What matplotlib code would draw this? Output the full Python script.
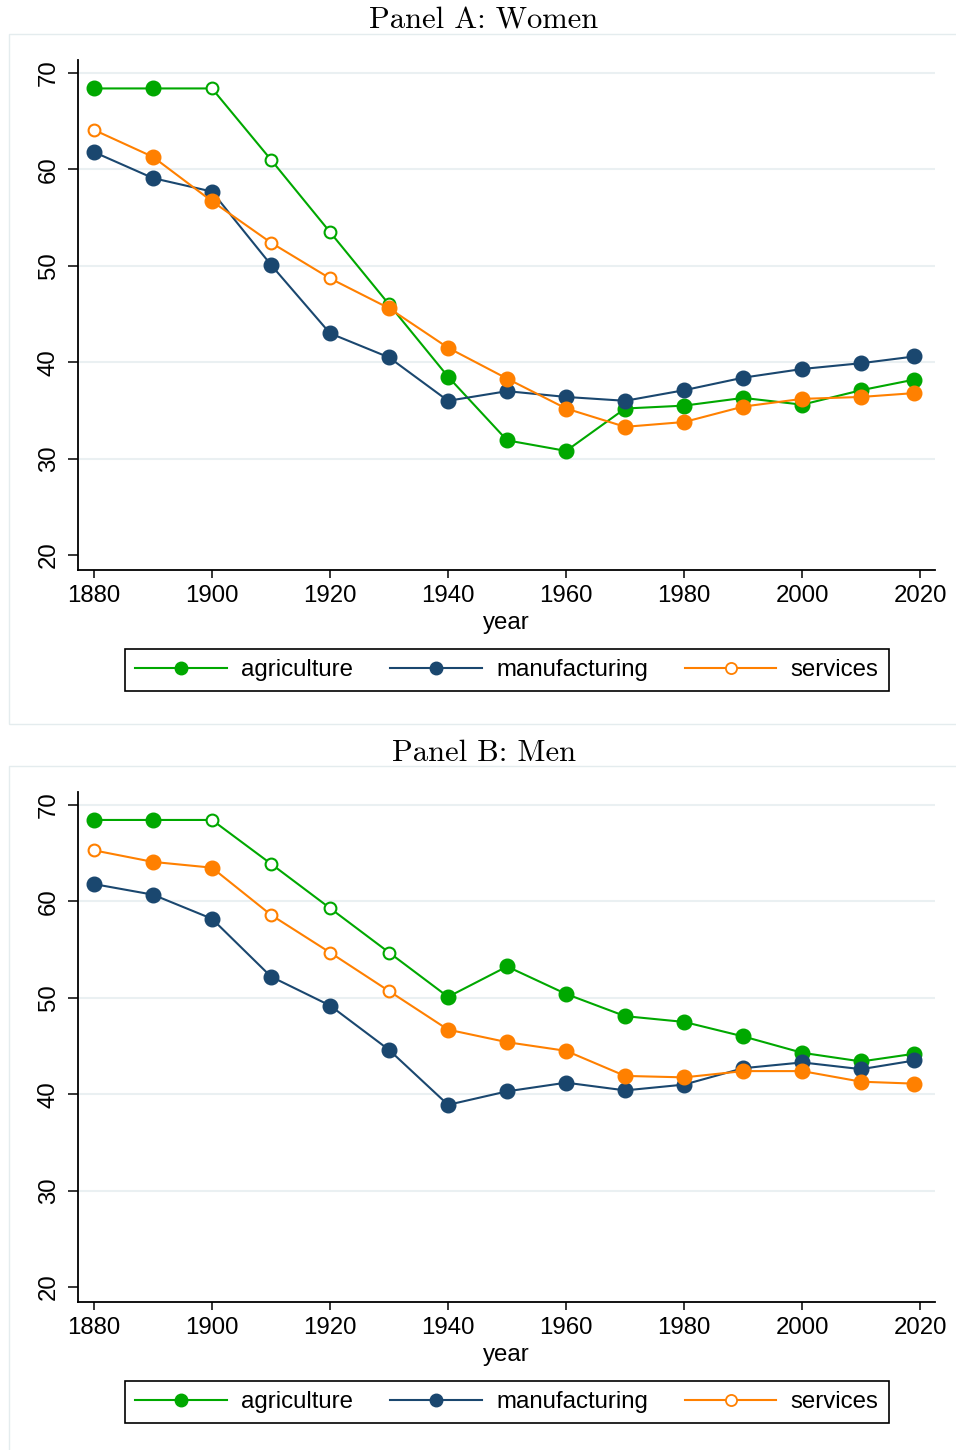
import numpy as np
import matplotlib
matplotlib.use("Agg")
import matplotlib.pyplot as plt
from matplotlib.lines import Line2D
from matplotlib.patches import Rectangle

plt.rcParams['font.family'] = ['Liberation Sans', 'DejaVu Sans']

W, H = 956, 1450
FS = 17.3

years = [1880, 1890, 1900, 1910, 1920, 1930, 1940, 1950, 1960, 1970, 1980, 1990, 2000, 2010, 2019]

# Panel A: women
women_agri = [68.4, 68.4, 68.4, 61.0, 53.5, 46.0, 38.5, 31.9, 30.8, 35.2, 35.5, 36.3, 35.6, 37.1, 38.2]
women_manu = [61.8, 59.1, 57.7, 50.1, 43.0, 40.5, 36.0, 37.0, 36.4, 36.0, 37.1, 38.4, 39.3, 39.9, 40.6]
women_serv = [64.1, 61.3, 56.7, 52.4, 48.7, 45.6, 41.5, 38.3, 35.2, 33.3, 33.8, 35.4, 36.2, 36.4, 36.8]
women_agri_hollow = [0, 0, 1, 1, 1, 1, 0, 0, 0, 0, 0, 0, 0, 0, 0]
women_manu_hollow = [0] * 15
women_serv_hollow = [1, 0, 0, 1, 1, 0, 0, 0, 0, 0, 0, 0, 0, 0, 0]

# Panel B: men
men_agri = [68.45, 68.45, 68.45, 63.9, 59.3, 54.7, 50.1, 53.25, 50.4, 48.1, 47.5, 46.0, 44.3, 43.4, 44.2]
men_manu = [61.8, 60.7, 58.2, 52.2, 49.2, 44.6, 38.9, 40.3, 41.2, 40.4, 41.0, 42.7, 43.3, 42.6, 43.5]
men_serv = [65.3, 64.1, 63.5, 58.6, 54.7, 50.7, 46.7, 45.4, 44.5, 41.9, 41.75, 42.4, 42.4, 41.3, 41.1]
men_agri_hollow = [0, 0, 1, 1, 1, 1, 0, 0, 0, 0, 0, 0, 0, 0, 0]
men_manu_hollow = [0] * 15
men_serv_hollow = [1, 0, 0, 1, 1, 1, 0, 0, 0, 0, 0, 0, 0, 0, 0]

sectors = ['agriculture', 'manufacturing', 'services']
colors = {'agriculture': '#00a800', 'manufacturing': '#1a476f', 'services': '#ff8000'}
grid_color = '#eaf0f2'
frame_color = '#e4ecee'


def fx(px):
    return px / W


def fy(py):
    return 1 - py / H


def draw_series(ax, values, hollow, color, z):
    x = np.array(years)
    y = np.array(values)
    h = np.array(hollow, dtype=bool)
    ax.plot(x, y, color=color, lw=1.5, zorder=z)
    ax.plot(x[~h], y[~h], 'o', ms=10.5, color=color, mec=color, zorder=z)
    ax.plot(x[h], y[h], 'o', ms=8.5, mfc='white', mec=color, mew=1.5, zorder=z)


def draw_panel(fig, title, top, bottom, data):
    # light frame around the whole panel
    fig.add_artist(Rectangle((fx(9), fy(bottom)), fx(960 - 9), (bottom - top) / H,
                             transform=fig.transFigure, fill=False,
                             edgecolor=frame_color, lw=1.0))
    fig.text(fx(484), fy(top - 13), title, ha='center', va='center',
             fontfamily='cmr10', fontsize=22)

    ax_top, ax_bot = top + 26, top + 536
    ax = fig.add_axes([fx(78), fy(ax_bot), fx(935 - 78), (ax_bot - ax_top) / H])
    ax.set_xlim(1877.3, 2022.5)
    ax.set_ylim(18.45, 71.35)
    for v in [30, 40, 50, 60, 70]:
        ax.axhline(v, color=grid_color, lw=1.5, zorder=1)

    for i, name in enumerate(sectors):
        vals, hol = data[name]
        draw_series(ax, vals, hol, colors[name], 3 + i)

    for side in ['top', 'right']:
        ax.spines[side].set_visible(False)
    for side in ['left', 'bottom']:
        ax.spines[side].set_linewidth(1.3)

    ax.set_xticks(np.arange(1880, 2021, 20))
    ax.set_yticks(np.arange(20, 71, 10))
    ax.tick_params(axis='both', direction='out', width=1.1, labelsize=FS, colors='black')
    ax.tick_params(axis='y', length=7, pad=6, labelrotation=90)
    ax.tick_params(axis='x', length=6, pad=4.5)
    for lbl in ax.get_yticklabels():
        lbl.set_va('center')
    ax.set_xlabel('year', fontsize=FS, labelpad=4)

    handles = [
        Line2D([], [], color=colors['agriculture'], lw=1.5, marker='o', ms=9),
        Line2D([], [], color=colors['manufacturing'], lw=1.5, marker='o', ms=9),
        Line2D([], [], color=colors['services'], lw=1.5, marker='o', ms=8,
               mfc='white', mew=1.3),
    ]
    leg = ax.legend(handles, sectors, loc='center', ncol=3,
                    bbox_to_anchor=(fx(507), fy(ax_bot + 100)),
                    bbox_transform=fig.transFigure, fontsize=FS,
                    handlelength=3.8, handletextpad=0.6, columnspacing=1.55,
                    fancybox=False, framealpha=1, borderpad=0.42)
    leg.get_frame().set_edgecolor('black')
    leg.get_frame().set_linewidth(1.2)
    return ax


fig = plt.figure(figsize=(W / 100, H / 100), dpi=100)
fig.patch.set_facecolor('white')

draw_panel(fig, 'Panel A: Women', 34, 724, {
    'agriculture': (women_agri, women_agri_hollow),
    'manufacturing': (women_manu, women_manu_hollow),
    'services': (women_serv, women_serv_hollow),
})
draw_panel(fig, 'Panel B: Men', 766, 1452, {
    'agriculture': (men_agri, men_agri_hollow),
    'manufacturing': (men_manu, men_manu_hollow),
    'services': (men_serv, men_serv_hollow),
})

fig.savefig('out.png', dpi=100)
